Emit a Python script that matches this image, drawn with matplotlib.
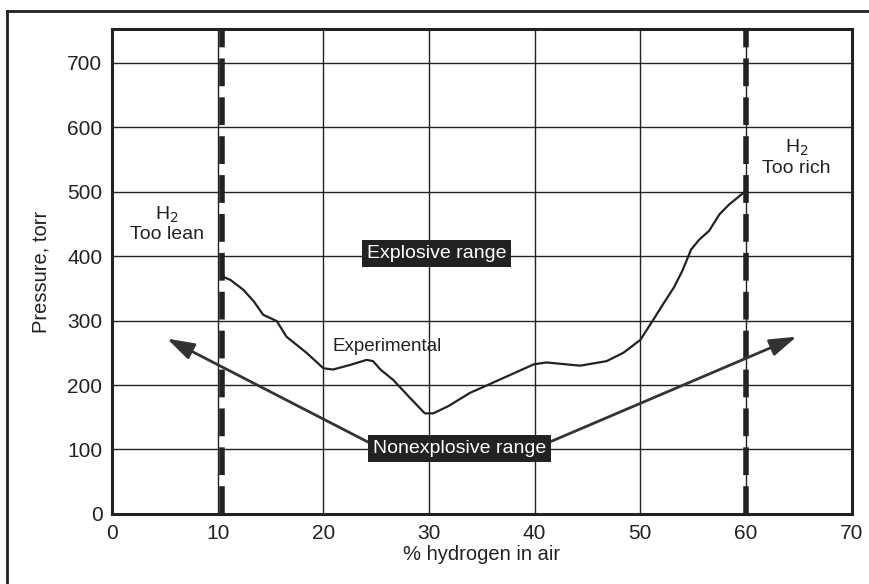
import numpy as np
import matplotlib.pyplot as plt
from matplotlib.lines import Line2D

plt.rcParams["font.family"] = ["Liberation Sans", "DejaVu Sans"]

# experimental explosion limit curve (% H2 in air, pressure torr)
h2_pct = [10.5, 11.2, 12.4, 13.4, 14.3, 15.6, 16.5, 18.4, 20.0, 20.9,
          22.5, 24.1, 24.7, 25.4, 26.6, 28.2, 29.6, 30.4, 31.8, 32.3,
          33.9, 36.1, 39.9, 41.1, 44.3, 46.8, 48.4, 50.0, 51.1, 52.1,
          53.2, 54.0, 54.8, 55.6, 56.5, 57.5, 58.4, 59.9]
pressure = [368, 363, 348, 330, 309, 299, 275, 250, 226, 224,
            231, 239, 237, 224, 208, 180, 156, 156, 167, 172,
            188, 204, 232, 235, 230, 237, 250, 270, 298, 324,
            352, 378, 410, 426, 439, 465, 480, 500]

lean_limit = 10.4
rich_limit = 60.0

x_ticks = [0, 10, 20, 30, 40, 50, 60, 70]
y_ticks = [0, 100, 200, 300, 400, 500, 600, 700]


def main():
    fig = plt.figure(figsize=(8.69, 5.84), dpi=100)
    ax = fig.add_axes([0.129, 0.12, 0.851, 0.830])

    # outer frame of the scanned figure
    fig.add_artist(Line2D([7 / 869, 7 / 869], [0, 1 - 11 / 584],
                          color="#222222", lw=2))
    fig.add_artist(Line2D([7 / 869, 1], [1 - 11 / 584, 1 - 11 / 584],
                          color="#222222", lw=2))

    ax.set_xlim(0, 70)
    ax.set_ylim(0, 752)
    ax.set_xticks(x_ticks)
    ax.set_yticks(y_ticks)
    ax.grid(True, color="#222222", lw=1.0)
    ax.set_axisbelow(True)
    ax.tick_params(length=0, labelsize=15, pad=7, colors="#222222")
    for s in ax.spines.values():
        s.set_linewidth(2.2)
        s.set_color("#222222")

    # limit lines
    for xl in (lean_limit, rich_limit):
        ax.axvline(xl, color="#222222", lw=4, dashes=(5, 2), zorder=3)

    ax.plot(h2_pct, pressure, color="#222222", lw=1.6, zorder=4,
            solid_joinstyle="round")

    # arrows from the nonexplosive label
    arr = dict(arrowstyle="-|>,head_length=1.1,head_width=0.35",
               color="#333333", lw=2.0, mutation_scale=15,
               shrinkA=0, shrinkB=0)
    ax.annotate("", xy=(5.2, 272), xytext=(24.4, 110), arrowprops=arr)
    ax.annotate("", xy=(64.8, 275), xytext=(41.2, 110), arrowprops=arr)

    box = dict(boxstyle="square,pad=0.25", fc="#222222", ec="none")
    ax.text(32.9, 101, "Nonexplosive range", color="white", fontsize=14,
            ha="center", va="center", bbox=box, zorder=6)
    ax.text(30.7, 404, "Explosive range", color="white", fontsize=14,
            ha="center", va="center", bbox=box, zorder=6)
    ax.text(26.0, 259, "Experimental", fontsize=13.5, color="#222222",
            ha="center", va="center", zorder=6)
    ax.text(5.2, 450, "H$_2$\nToo lean", fontsize=14, color="#222222",
            ha="center", va="center", linespacing=1.1)
    ax.text(64.8, 553, "H$_2$\nToo rich", fontsize=14, color="#222222",
            ha="center", va="center", linespacing=1.1)

    ax.set_xlabel("% hydrogen in air", fontsize=14.5, color="#222222",
                  labelpad=2)
    ax.set_ylabel("Pressure, torr", fontsize=14.5, color="#222222",
                  labelpad=12)

    fig.savefig("out.png", dpi=100)


if __name__ == "__main__":
    main()
